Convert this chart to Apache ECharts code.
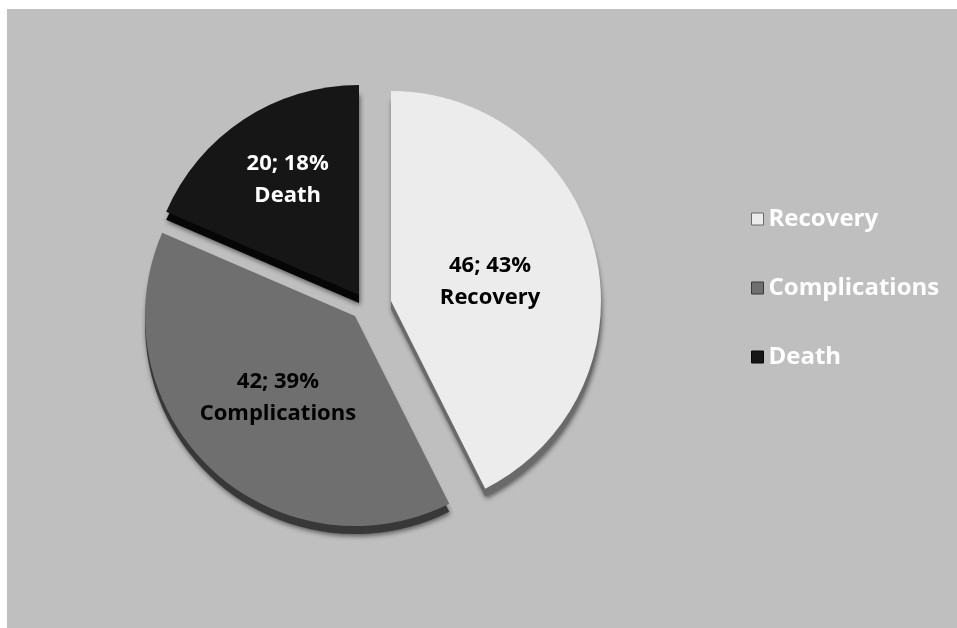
<!DOCTYPE html>
<html>
<head>
<meta charset="utf-8">
<style>
  html, body { margin: 0; padding: 0; background: #ffffff; }
  #chart { width: 957px; height: 628px; }
</style>
<script src="https://cdn.jsdelivr.net/npm/echarts@6/dist/echarts.min.js"></script>
</head>
<body>
<div id="chart"></div>
<script>
// Outcome counts
const categories = ['Recovery', 'Complications', 'Death'];
const values = [46, 42, 20];

// Appearance of each slice: top face, side wall, label text
const faceColors = ['#ececec', '#6f6f6f', '#161616'];
const sideColors = ['#6a6a6a', '#383838', '#060606'];
const labelColors = ['#000000', '#000000', '#ffffff'];

// Exploded slice placement (apex of each wedge) and label nudges
const sliceCenters = [[391, 301], [355, 316], [359, 295]];
const labelShift = [[-6, 6], [-3, 3], [-12, -25]];
const RADIUS = 210;
const DEPTH = 8;

const FONT = 'Open Sans';

const chart = echarts.init(document.getElementById('chart'), null, { renderer: 'canvas' });

function sliceData(own, colorList, withShadow) {
  return categories.map((name, j) => ({
    name: name,
    value: values[j],
    itemStyle: j === own ? Object.assign({ color: colorList[j] }, withShadow ? {
      shadowBlur: 5, shadowColor: 'rgba(0,0,0,0.55)', shadowOffsetX: 1, shadowOffsetY: 2
    } : {}) : { color: 'rgba(0,0,0,0)' },
    label: { show: false }
  }));
}

const series = [];
categories.forEach((name, i) => {
  const [cx, cy] = sliceCenters[i];
  // side wall, drawn a few pixels lower under the face
  series.push({
    type: 'pie',
    silent: true,
    z: 1,
    center: [cx, cy + DEPTH],
    radius: [0, RADIUS],
    startAngle: 90,
    clockwise: true,
    avoidLabelOverlap: false,
    label: { show: false },
    labelLine: { show: false },
    emphasis: { disabled: true },
    data: sliceData(i, sideColors, true)
  });
});
categories.forEach((name, i) => {
  const [cx, cy] = sliceCenters[i];
  const data = sliceData(i, faceColors, false);
  data[i].label = {
    show: true,
    position: 'inside',
    formatter: '{c}; {d}%\n{b}',
    color: labelColors[i],
    fontFamily: FONT,
    fontWeight: 'bold',
    fontSize: 22,
    lineHeight: 32,
    align: 'center'
  };
  series.push({
    type: 'pie',
    silent: true,
    z: 2,
    center: [cx, cy],
    radius: [0, RADIUS],
    startAngle: 90,
    clockwise: true,
    percentPrecision: 0,
    avoidLabelOverlap: false,
    labelLine: { show: false },
    emphasis: { disabled: true },
    labelLayout: { dx: labelShift[i][0], dy: labelShift[i][1] },
    data: data
  });
});

chart.setOption({
  backgroundColor: '#ffffff',
  animation: false,
  graphic: [{
    type: 'rect',
    z: -10,
    silent: true,
    shape: { x: 7, y: 9, width: 950, height: 619 },
    style: { fill: '#bfbfbf' }
  }],
  legend: {
    orient: 'vertical',
    left: 746,
    top: 200,
    icon: 'rect',
    itemWidth: 12,
    itemHeight: 12,
    itemGap: 41,
    selectedMode: false,
    textStyle: {
      color: '#ffffff',
      fontFamily: FONT,
      fontWeight: 'bold',
      fontSize: 24,
      lineHeight: 28
    },
    data: categories.map((name, i) => ({
      name: name,
      itemStyle: { color: faceColors[i], borderColor: sideColors[i], borderWidth: 1 }
    }))
  },
  series: series
});
</script>
</body>
</html>
